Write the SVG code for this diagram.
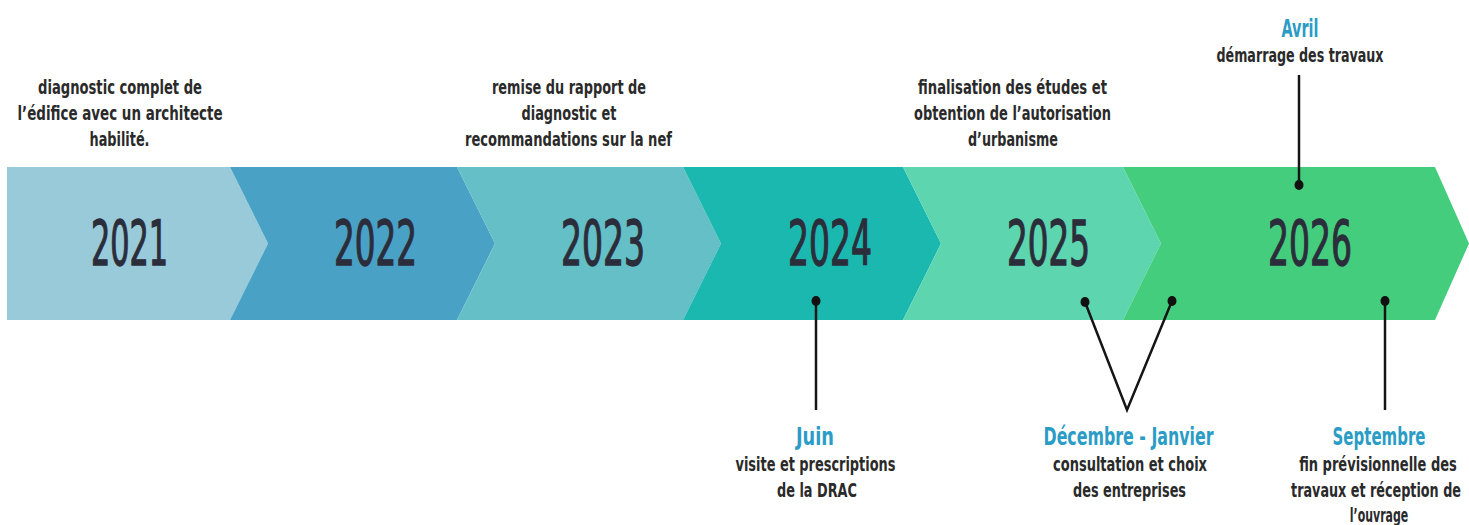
<svg xmlns="http://www.w3.org/2000/svg" width="1469" height="525" viewBox="0 0 1469 525">
  <style>
    .yr { font-family: "Liberation Sans Narrow", "DejaVu Sans Condensed", "Liberation Sans", sans-serif; font-size: 62px; font-weight: normal; fill: #2b2d3b; stroke: #2b2d3b; stroke-width: 1.3; text-anchor: middle; }
    .tx { font-family: "Liberation Sans Narrow", "DejaVu Sans Condensed", "Liberation Sans", sans-serif; font-size: 20px; font-weight: bold; fill: #2a2a2a; text-anchor: middle; }
    .hd { font-family: "Liberation Sans Narrow", "DejaVu Sans Condensed", "Liberation Sans", sans-serif; font-size: 24px; font-weight: bold; fill: #2b9cc5; text-anchor: middle; }
    .ln { stroke: #151515; stroke-width: 2.5; fill: none; }
    .dot { fill: #111; }
  </style>
  <rect width="1469" height="525" fill="#ffffff"/>

  <g id="year-2021">
    <polygon points="7,167 230,167 268,243.5 230,320 7,320" fill="#98cad9"/>
    <text class="yr" x="129.5" y="265" textLength="77" lengthAdjust="spacingAndGlyphs">2021</text>
  </g>
  <g id="year-2022">
    <polygon points="230,167 457,167 495,243.5 457,320 230,320 268,243.5" fill="#4aa1c6"/>
    <text class="yr" x="375.5" y="265" textLength="83" lengthAdjust="spacingAndGlyphs">2022</text>
  </g>
  <g id="year-2023">
    <polygon points="457,167 683,167 721,243.5 683,320 457,320 495,243.5" fill="#64bfc6"/>
    <text class="yr" x="603" y="265" textLength="84" lengthAdjust="spacingAndGlyphs">2023</text>
  </g>
  <g id="year-2024">
    <polygon points="683,167 903,167 941,243.5 903,320 683,320 721,243.5" fill="#1bb8b0"/>
    <text class="yr" x="830" y="265" textLength="84" lengthAdjust="spacingAndGlyphs">2024</text>
  </g>
  <g id="year-2025">
    <polygon points="903,167 1123,167 1161,243.5 1123,320 903,320 941,243.5" fill="#5dd5ae"/>
    <text class="yr" x="1048.5" y="265" textLength="83" lengthAdjust="spacingAndGlyphs">2025</text>
  </g>
  <g id="year-2026">
    <polygon points="1123,167 1435,167 1469,243.5 1435,320 1123,320 1161,243.5" fill="#45cd7e"/>
    <text class="yr" x="1310" y="265" textLength="84" lengthAdjust="spacingAndGlyphs">2026</text>
  </g>

  <g id="connectors">
    <line class="ln" x1="1299" y1="75" x2="1299" y2="185"/>
    <ellipse class="dot" cx="1299" cy="185" rx="4.5" ry="5"/>
    <line class="ln" x1="816" y1="301" x2="816" y2="410"/>
    <ellipse class="dot" cx="816" cy="301" rx="4.5" ry="5"/>
    <polyline class="ln" points="1085,302 1127,410 1172,301"/>
    <ellipse class="dot" cx="1085" cy="302" rx="4.5" ry="5"/>
    <ellipse class="dot" cx="1172" cy="301" rx="4.5" ry="5"/>
    <line class="ln" x1="1385" y1="301" x2="1385" y2="410"/>
    <ellipse class="dot" cx="1385" cy="301" rx="4.5" ry="5"/>
  </g>

  <g id="note-2021">
    <text class="tx" x="120" y="94" textLength="164" lengthAdjust="spacingAndGlyphs">diagnostic complet de</text>
    <text class="tx" x="120" y="120" textLength="205" lengthAdjust="spacingAndGlyphs">l’édifice avec un architecte</text>
    <text class="tx" x="119.5" y="146" textLength="60" lengthAdjust="spacingAndGlyphs">habilité.</text>
  </g>
  <g id="note-2023">
    <text class="tx" x="569" y="94" textLength="154" lengthAdjust="spacingAndGlyphs">remise du rapport de</text>
    <text class="tx" x="569" y="120" textLength="95" lengthAdjust="spacingAndGlyphs">diagnostic et</text>
    <text class="tx" x="568.5" y="146" textLength="207" lengthAdjust="spacingAndGlyphs">recommandations sur la nef</text>
  </g>
  <g id="note-2025">
    <text class="tx" x="1012.5" y="94" textLength="189" lengthAdjust="spacingAndGlyphs">finalisation des études et</text>
    <text class="tx" x="1012.5" y="120" textLength="197" lengthAdjust="spacingAndGlyphs">obtention de l’autorisation</text>
    <text class="tx" x="1013" y="146" textLength="90" lengthAdjust="spacingAndGlyphs">d’urbanisme</text>
  </g>
  <g id="note-avril">
    <text class="hd" x="1300" y="37" textLength="37" lengthAdjust="spacingAndGlyphs">Avril</text>
    <text class="tx" x="1300" y="62" textLength="167" lengthAdjust="spacingAndGlyphs">démarrage des travaux</text>
  </g>
  <g id="note-juin">
    <text class="hd" x="815" y="445" textLength="38" lengthAdjust="spacingAndGlyphs">Juin</text>
    <text class="tx" x="815.5" y="471" textLength="160" lengthAdjust="spacingAndGlyphs">visite et prescriptions</text>
    <text class="tx" x="817" y="497" textLength="80" lengthAdjust="spacingAndGlyphs">de la DRAC</text>
  </g>
  <g id="note-decembre">
    <text class="hd" x="1128.5" y="445" textLength="170" lengthAdjust="spacingAndGlyphs">Décembre - Janvier</text>
    <text class="tx" x="1130" y="471" textLength="154" lengthAdjust="spacingAndGlyphs">consultation et choix</text>
    <text class="tx" x="1129.5" y="497" textLength="113" lengthAdjust="spacingAndGlyphs">des entreprises</text>
  </g>
  <g id="note-septembre" transform="translate(1378 0) scale(0.72 1)">
    <text class="hd" x="1.4" y="445" textLength="129" lengthAdjust="spacingAndGlyphs">Septembre</text>
    <text class="tx" x="0" y="471" textLength="219" lengthAdjust="spacingAndGlyphs">fin prévisionnelle des</text>
    <text class="tx" x="-2.8" y="497" textLength="236" lengthAdjust="spacingAndGlyphs">travaux et réception de</text>
    <text class="tx" x="1.4" y="522" textLength="81" lengthAdjust="spacingAndGlyphs">l’ouvrage</text>
  </g>
</svg>
